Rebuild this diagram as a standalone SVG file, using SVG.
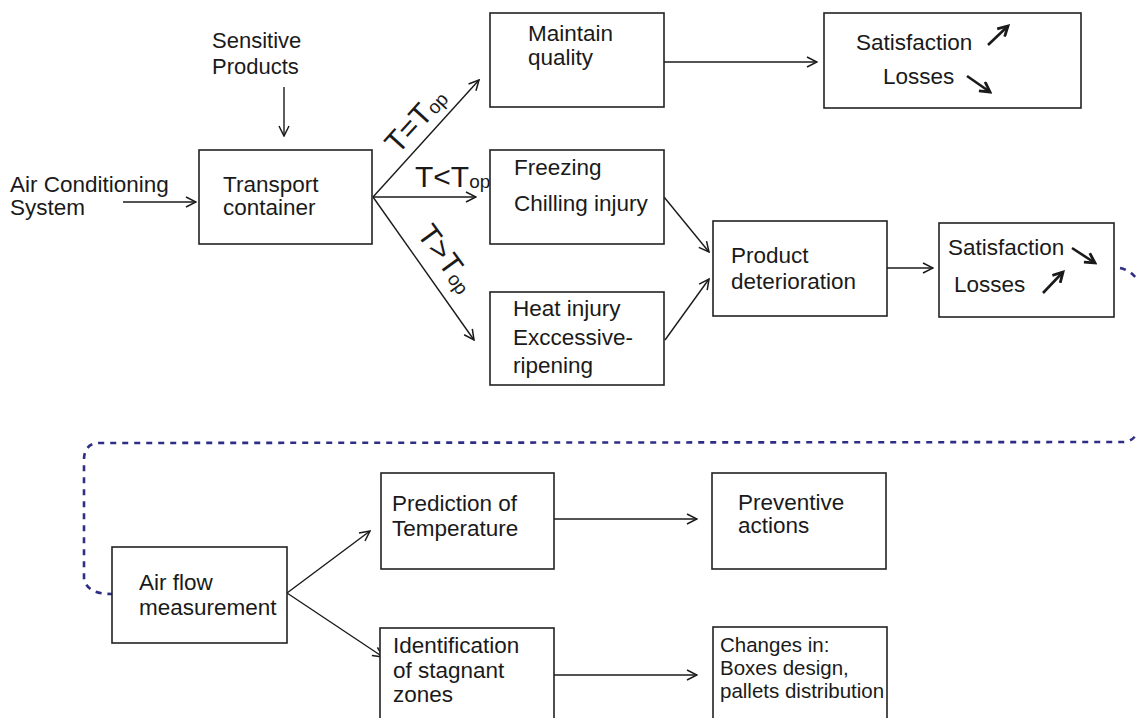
<svg xmlns="http://www.w3.org/2000/svg" width="1136" height="718" viewBox="0 0 1136 718">
<defs>
<marker id="arr" viewBox="0 0 12 12" refX="11" refY="6" markerWidth="12" markerHeight="12" markerUnits="userSpaceOnUse" orient="auto">
<path d="M1,1 L11,6 L1,11" fill="none" stroke="#1a1a1a" stroke-width="1.5"/>
</marker>
<marker id="big" viewBox="0 0 12 12" refX="10" refY="6" markerWidth="13" markerHeight="13" markerUnits="userSpaceOnUse" orient="auto">
<path d="M1,1 L10,6 L1,11" fill="none" stroke="#1a1a1a" stroke-width="2.6"/>
</marker>
</defs>
<style>
.box{fill:#fff;stroke:#222;stroke-width:1.6}
.t{font-family:"Liberation Sans",Arial,sans-serif;font-size:22.5px;fill:#1a1a1a}
.s{font-size:22px}
.sm{font-size:20.5px}
.lbl{font-family:"Liberation Sans",Arial,sans-serif;font-size:30px;fill:#1a1a1a}
.sub{font-size:19px}
.c{fill:none;stroke:#1a1a1a;stroke-width:1.4}
.ind{fill:none;stroke:#1a1a1a;stroke-width:2.6}
.dot{fill:none;stroke:#2e2e86;stroke-width:2.6;stroke-dasharray:6 6}
</style>
<rect width="1136" height="718" fill="#fff"/>

<g id="connectors">
<path class="c" d="M123,202 L196,202" marker-end="url(#arr)"/>
<path class="c" d="M284,87 L284,136" marker-end="url(#arr)"/>
<path class="c" d="M373,197 L479,80" marker-end="url(#arr)"/>
<path class="c" d="M373,197 L476,197" marker-end="url(#arr)"/>
<path class="c" d="M373,197 L474,340" marker-end="url(#arr)"/>
<path class="c" d="M664,62 L817,62" marker-end="url(#arr)"/>
<path class="c" d="M664,197 L709,252" marker-end="url(#arr)"/>
<path class="c" d="M665,340 L709,279" marker-end="url(#arr)"/>
<path class="c" d="M887,268 L933,268" marker-end="url(#arr)"/>
<path class="c" d="M287,593 L370,531" marker-end="url(#arr)"/>
<path class="c" d="M287,593 L383,657" marker-end="url(#arr)"/>
<path class="c" d="M554,519 L697,519" marker-end="url(#arr)"/>
<path class="c" d="M554,675 L697,675" marker-end="url(#arr)"/>
<path class="dot" d="M1120,268 Q1134,271 1140,285"/>
<path class="dot" d="M1140,426 Q1136,441 1124,442 L100,443 Q84,443 84,460 L84,578 Q86,594 112,594"/>
</g>

<g id="labels">
<text class="lbl" transform="translate(398,155) rotate(-47.8)">T=T<tspan class="sub" dy="1">op</tspan></text>
<text class="lbl" x="415" y="187">T&lt;T<tspan class="sub" dy="1">op</tspan></text>
<text class="lbl" transform="translate(416,234) rotate(53.8)">T&gt;T<tspan class="sub" dy="2">op</tspan></text>
</g>

<g id="sensitive">
<text class="t s" x="212" y="48">Sensitive</text>
<text class="t s" x="212" y="74">Products</text>
</g>
<g id="aircond">
<text class="t" x="10" y="192">Air Conditioning</text>
<text class="t" x="10" y="215">System</text>
</g>
<g id="transport">
<rect class="box" x="199" y="150" width="173" height="94"/>
<text class="t" x="223" y="192">Transport</text>
<text class="t" x="223" y="215">container</text>
</g>
<g id="maintain">
<rect class="box" x="490" y="13" width="174" height="94"/>
<text class="t" x="528" y="41">Maintain</text>
<text class="t" x="528" y="65">quality</text>
</g>
<g id="sat1">
<rect class="box" x="824" y="13" width="257" height="95"/>
<text class="t" x="856" y="50">Satisfaction</text>
<path class="ind" d="M988,45 L1008,26" marker-end="url(#big)"/>
<text class="t" x="883" y="84">Losses</text>
<path class="ind" d="M967,76 L990,92" marker-end="url(#big)"/>
</g>
<g id="freezing">
<rect class="box" x="490" y="150" width="174" height="94"/>
<text class="t" x="514" y="175">Freezing</text>
<text class="t" x="514" y="211">Chilling injury</text>
</g>
<g id="heat">
<rect class="box" x="490" y="292" width="174" height="93"/>
<text class="t" x="513" y="316">Heat injury</text>
<text class="t" x="513" y="345">Exccessive-</text>
<text class="t" x="513" y="373">ripening</text>
</g>
<g id="deterioration">
<rect class="box" x="713" y="221" width="174" height="95"/>
<text class="t" x="731" y="263">Product</text>
<text class="t" x="731" y="289">deterioration</text>
</g>
<g id="sat2">
<rect class="box" x="939" y="223" width="175" height="94"/>
<text class="t" x="948" y="255">Satisfaction</text>
<path class="ind" d="M1072,248 L1095,263" marker-end="url(#big)"/>
<text class="t" x="954" y="292">Losses</text>
<path class="ind" d="M1043,293 L1063,272" marker-end="url(#big)"/>
</g>
<g id="airflow">
<rect class="box" x="112" y="547" width="175" height="96"/>
<text class="t" x="139" y="590">Air flow</text>
<text class="t" x="139" y="615">measurement</text>
</g>
<g id="prediction">
<rect class="box" x="381" y="473" width="173" height="96"/>
<text class="t" x="392" y="511">Prediction of</text>
<text class="t" x="392" y="536">Temperature</text>
</g>
<g id="preventive">
<rect class="box" x="712" y="473" width="174" height="96"/>
<text class="t" x="738" y="510">Preventive</text>
<text class="t" x="738" y="533">actions</text>
</g>
<g id="identification">
<rect class="box" x="380" y="628" width="174" height="110"/>
<text class="t" x="393" y="653">Identification</text>
<text class="t" x="393" y="678">of stagnant</text>
<text class="t" x="393" y="702">zones</text>
</g>
<g id="changes">
<rect class="box" x="713" y="627" width="174" height="111"/>
<text class="t sm" x="720" y="652">Changes in:</text>
<text class="t sm" x="720" y="675">Boxes design,</text>
<text class="t sm" x="720" y="698">pallets distribution</text>
</g>
</svg>
